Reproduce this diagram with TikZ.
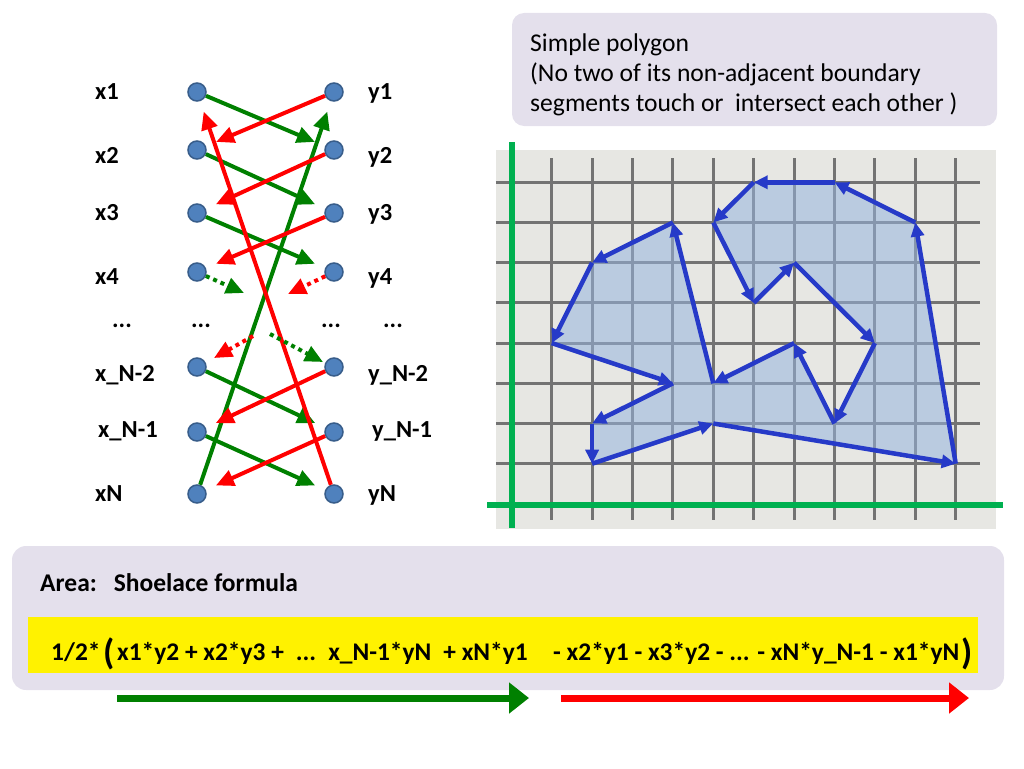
\documentclass[tikz,border=0pt]{standalone}
\usepackage{fontspec}
\setmainfont{Carlito}
\usetikzlibrary{arrows.meta}
\definecolor{dotblue}{RGB}{79,129,189}
\definecolor{dotedge}{RGB}{56,93,138}
\definecolor{arrgreen}{RGB}{0,128,0}
\definecolor{axisgreen}{RGB}{0,176,80}
\definecolor{boxgray}{RGB}{228,224,236}
\definecolor{paper}{RGB}{231,231,227}
\definecolor{gridgray}{RGB}{115,115,115}
\definecolor{polyblue}{RGB}{38,58,200}
\definecolor{polyfill}{RGB}{150,180,222}
\tikzset{
  dot/.style={circle,fill=dotblue,draw=dotedge,line width=1.5pt,minimum size=18pt,inner sep=0pt},
  lbl/.style={anchor=base west,inner sep=0pt,font=\fontsize{24.5}{27}\selectfont\bfseries},
  dots/.style={anchor=base,inner sep=0pt,font=\fontsize{24.5}{27}\selectfont\bfseries},
  fwd/.style={draw=arrgreen,line width=4pt,-{Triangle[length=18pt,width=16pt]},shorten >=11pt},
  bwd/.style={fwd,draw=red},
  fwddot/.style={fwd,dash pattern=on 4pt off 4pt,shorten >=0pt},
  bwddot/.style={fwddot,draw=red},
  gridline/.style={draw=gridgray,line width=3pt},
  edge/.style={draw=polyblue,line width=4.5pt,-{Triangle[length=14pt,width=13pt]}},
  formula/.style={anchor=base west,inner sep=0pt,font=\fontsize{25.4}{29}\selectfont\bfseries}
}
\begin{document}
\begin{tikzpicture}[x=1pt,y=-1pt]
\useasboundingbox (0,0) rectangle (1024,768);

\node (x1) [dot] at (197,92) {};
\node (x2) [dot] at (197,150) {};
\node (x3) [dot] at (197,213) {};
\node (x4) [dot] at (197,272) {};
\node (xNb) [dot] at (197,367) {};
\node (xNa) [dot] at (197,432) {};
\node (xN) [dot] at (197,494) {};
\node (y1) [dot] at (334,92) {};
\node (y2) [dot] at (334,150) {};
\node (y3) [dot] at (334,213) {};
\node (y4) [dot] at (334,272) {};
\node (yNb) [dot] at (334,367) {};
\node (yNa) [dot] at (334,432) {};
\node (yN) [dot] at (334,494) {};

\node (Lx1) [lbl] at (95,99) {x1};
\node (Lx2) [lbl] at (95,163) {x2};
\node (Lx3) [lbl] at (95,220) {x3};
\node (Lx4) [lbl] at (95,284) {x4};
\node (LxNb) [lbl] at (95,381) {x\_N-2};
\node (LxNa) [lbl] at (98,437) {x\_N-1};
\node (LxN) [lbl] at (95,501) {xN};
\node (Ly1) [lbl] at (368,99) {y1};
\node (Ly2) [lbl] at (368,163) {y2};
\node (Ly3) [lbl] at (368,220) {y3};
\node (Ly4) [lbl] at (368,284) {y4};
\node (LyNb) [lbl] at (368,381) {y\_N-2};
\node (LyNa) [lbl] at (372,437) {y\_N-1};
\node (LyN) [lbl] at (368,501) {yN};

\node (d1) [dots] at (122,327) {...};
\node (d2) [dots] at (201,327) {...};
\node (d3) [dots] at (331,327) {...};
\node (d4) [dots] at (393,327) {...};

\draw[fwd] (x1) -- (y2);
\draw[fwd] (x2) -- (y3);
\draw[fwd] (x3) -- (y4);
\draw[fwd] (xNb) -- (yNa);
\draw[fwd] (xNa) -- (yN);
\draw[fwd] (xN) -- (y1);
\draw[bwd] (y1) -- (x2);
\draw[bwd] (y2) -- (x3);
\draw[bwd] (y3) -- (x4);
\draw[bwd] (yNb) -- (xNa);
\draw[bwd] (yNa) -- (xN);
\draw[bwd] (yN) -- (x1);

\coordinate (g4) at (244,293);
\coordinate (r4) at (288,294);
\coordinate (gs) at (270,334);
\coordinate (ge) at (323,362);
\coordinate (rs) at (253,336);
\coordinate (re) at (214,358);
\draw[fwddot] (x4) -- (g4);
\draw[bwddot] (y4) -- (r4);
\draw[fwddot] (gs) -- (ge);
\draw[bwddot] (rs) -- (re);

\fill[boxgray,rounded corners=12pt] (512,13) rectangle (997,126);
\node (note) [anchor=north west,align=left,inner sep=0pt,font=\fontsize{25.6}{30}\selectfont] at (530,33.5)
  {Simple polygon\\(No two of its non-adjacent boundary\\segments touch or\ \ intersect each other )};

\fill[paper] (496,150) rectangle (996,529);
\begin{scope}[shift={(551.7,182.3)},x=40.4pt,y=-40.2pt]
\foreach \i in {0,...,10} \draw[gridline] (\i,-0.6) -- (\i,8.4);
\foreach \j in {0,...,7} \draw[gridline] (-1.38,\j) -- (10.6,\j);
\coordinate (A) at (5,0);
\coordinate (B) at (7,0);
\coordinate (C) at (9,1);
\coordinate (D) at (10,7);
\coordinate (E) at (4,6);
\coordinate (F) at (1,7);
\coordinate (G) at (1,6);
\coordinate (H) at (3,5);
\coordinate (I) at (0,4);
\coordinate (J) at (1,2);
\coordinate (K) at (3,1);
\coordinate (L) at (4,5);
\coordinate (M) at (6,4);
\coordinate (N) at (7,6);
\coordinate (O) at (8,4);
\coordinate (P) at (6,2);
\coordinate (Q) at (5,3);
\coordinate (R) at (4,1);
\fill[polyfill,fill opacity=0.55] (A) -- (R) -- (Q) -- (P) -- (O) -- (N) -- (M) -- (L) -- (K) -- (J)
  -- (I) -- (H) -- (G) -- (F) -- (E) -- (D) -- (C) -- (B) -- cycle;
\draw[edge] (A) -- (R);
\draw[edge] (R) -- (Q);
\draw[edge] (Q) -- (P);
\draw[edge] (P) -- (O);
\draw[edge] (O) -- (N);
\draw[edge] (N) -- (M);
\draw[edge] (M) -- (L);
\draw[edge] (L) -- (K);
\draw[edge] (K) -- (J);
\draw[edge] (J) -- (I);
\draw[edge] (I) -- (H);
\draw[edge] (H) -- (G);
\draw[edge] (G) -- (F);
\draw[edge] (F) -- (E);
\draw[edge] (E) -- (D);
\draw[edge] (D) -- (C);
\draw[edge] (C) -- (B);
\draw[edge] (B) -- (A);
\end{scope}
\draw[axisgreen,line width=6pt] (511.7,142) -- (511.7,528);
\draw[axisgreen,line width=6pt] (487,505) -- (1003,505);

\fill[boxgray,rounded corners=14pt] (12,546) rectangle (1004,690);
\node (area) [formula,font=\fontsize{25.5}{28}\selectfont\bfseries] at (40,591) {Area:\hspace{17pt}Shoelace formula};
\fill[yellow] (28,617) rectangle (978,673);
\node (half) [formula] at (51,660) {1/2*};
\node (lpar) [formula,font=\fontsize{36}{40}\selectfont\bfseries] at (103,664) {(};
\node (plus) [formula] at (117,660) {x1*y2 + x2*y3 +\hspace{12pt}...\hspace{12pt}x\_N-1*yN\hspace{12pt}+ xN*y1};
\node (minus) [formula] at (553,660) {- x2*y1 - x3*y2 - ... - xN*y\_N-1 - x1*yN};
\node (rpar) [formula,font=\fontsize{36}{40}\selectfont\bfseries] at (961,664) {)};

\coordinate (gl) at (117,698);
\coordinate (gr) at (529,698);
\coordinate (rl) at (561,698);
\coordinate (rr) at (969,698);
\draw[draw=arrgreen,line width=7pt,-{Triangle[length=20pt,width=30pt]}] (gl) -- (gr);
\draw[draw=red,line width=7pt,-{Triangle[length=20pt,width=30pt]}] (rl) -- (rr);
\end{tikzpicture}
\end{document}
